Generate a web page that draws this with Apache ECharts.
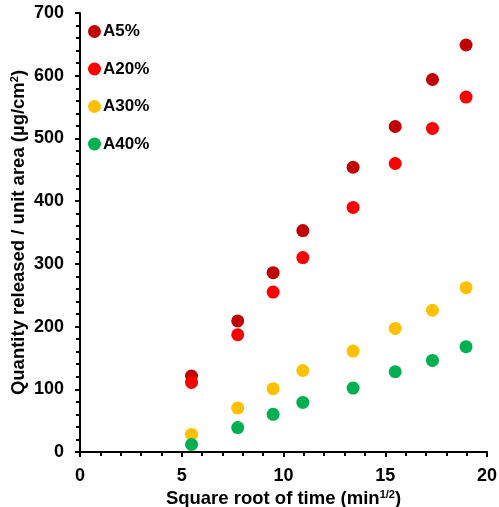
<!DOCTYPE html>
<html>
<head>
<meta charset="utf-8">
<script src="https://cdn.jsdelivr.net/npm/echarts@6/dist/echarts.min.js"></script>
<style>html,body{margin:0;padding:0;background:#fff}#c{width:499px;height:507px}</style>
</head>
<body>
<div id="c"></div>
<script>
const xValues = [5.48, 7.75, 9.49, 10.95, 13.42, 15.49, 17.32, 18.97];
const seriesNames = ['A5%', 'A20%', 'A30%', 'A40%'];
const a5 = [121, 209, 286, 353, 454, 519, 594, 649];
const a20 = [111, 187, 255, 310, 390, 460, 516, 566];
const a30 = [28, 70, 101, 130, 161, 197, 226, 262];
const a40 = [12, 39, 60, 79, 102, 128, 146, 168];
const colors = ['#C00000', '#FF0000', '#FFC000', '#00B050'];
const allValues = [a5, a20, a30, a40];

const font = 'Arial, "Liberation Sans", sans-serif';
const titleRich = {
  b: {fontFamily: font, fontWeight: 'bold', fontSize: 18.5, color: '#000'},
  s: {fontFamily: font, fontWeight: 'bold', fontSize: 11, color: '#000', verticalAlign: 'top', padding: [0, 0, 8, 0]}
};
const chart = echarts.init(document.getElementById('c'), null, {renderer: 'canvas'});
chart.setOption({
  animation: false,
  backgroundColor: '#fff',
  grid: {left: 80, right: 12, top: 13, bottom: 55, containLabel: false, outerBoundsMode: 'none'},
  legend: {
    orient: 'vertical', left: 83, top: 18,
    itemWidth: 13, itemHeight: 13, itemGap: 20.5, icon: 'circle',
    textStyle: {fontFamily: font, fontWeight: 'bold', fontSize: 17, color: '#000', padding: [0, 0, 0, -3]},
    data: seriesNames
  },
  xAxis: {
    type: 'value', min: 0, max: 20, interval: 5,
    name: '{b|Square root of time (min}{s|1/2}{b|)}',
    nameLocation: 'middle', nameGap: 37, nameMoveOverlap: false,
    nameTextStyle: {rich: titleRich},
    axisLine: {show: true, onZero: false, lineStyle: {color: '#000', width: 2}},
    axisTick: {show: true, inside: false, length: 5, lineStyle: {color: '#000', width: 2}},
    minorTick: {show: true, splitNumber: 5, length: 4, lineStyle: {color: '#000', width: 2}},
    axisLabel: {fontFamily: font, fontWeight: 'bold', fontSize: 18, color: '#000', margin: 15},
    splitLine: {show: false}
  },
  yAxis: {
    type: 'value', min: 0, max: 700, interval: 100,
    name: '{b|Quantity released / unit area (µg/cm}{s|2}{b|)}',
    nameLocation: 'middle', nameGap: 52, nameRotate: 90, nameMoveOverlap: false,
    nameTextStyle: {rich: titleRich},
    axisLine: {show: true, onZero: false, lineStyle: {color: '#000', width: 2}},
    axisTick: {show: true, inside: false, length: 5, lineStyle: {color: '#000', width: 2}},
    minorTick: {show: true, splitNumber: 5, length: 4, lineStyle: {color: '#000', width: 2}},
    axisLabel: {fontFamily: font, fontWeight: 'bold', fontSize: 18, color: '#000', margin: 16},
    splitLine: {show: false}
  },
  series: seriesNames.map((n, i) => ({
    name: n, type: 'scatter', symbol: 'circle', symbolSize: 13,
    itemStyle: {color: colors[i], opacity: 1},
    data: xValues.map((x, j) => [x, allValues[i][j]])
  }))
});
</script>
</body>
</html>
